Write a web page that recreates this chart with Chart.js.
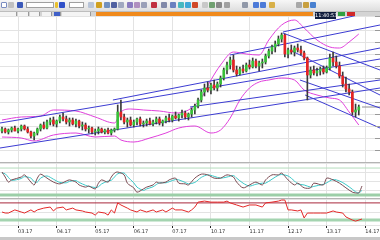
<!DOCTYPE html>
<html>
<head>
<meta charset="utf-8">
<script src="https://cdn.jsdelivr.net/npm/chart.js@4.4.1/dist/chart.umd.min.js"></script>
<style>
  body { margin: 0; width: 380px; height: 240px; overflow: hidden; position: relative; background: #ececec; font-family: "DejaVu Sans", sans-serif; }
  #toolbar { position: absolute; left: 0; top: 0; width: 380px; height: 11px; background: linear-gradient(#f7f7f7, #dedede); border-bottom: 1px solid #bdbdbd; }
  .ic { position: absolute; top: 2px; width: 6px; height: 6px; border-radius: 1px; }
  .box { position: absolute; top: 2px; height: 6px; background: #fff; border: 1px solid #a0a0a0; box-sizing: border-box; }
  #tabs { position: absolute; left: 0; top: 12px; width: 380px; height: 4px; background: #d4d4d4; }
  .tab { position: absolute; top: 0; height: 4px; background: #f4f4f4; border-right: 1px solid #999; }
  #clock { position: absolute; left: 315px; top: 12px; width: 21px; height: 7px; background: #101c3c; color: #fff; font-size: 5px; line-height: 7px; text-align: center; z-index: 5; }
  .panel { position: absolute; left: 0; width: 380px; background: #fff; }
  .sep { border-top: 1px solid #b4b4b4; }
  #foot { position: absolute; left: 0; top: 237px; width: 380px; height: 3px; background: #c8c8c8; }
</style>
</head>
<body>
<div id="toolbar">
  <div class="ic" style="left:1px;background:#fff;border:1px solid #7a8cc0;box-sizing:border-box"></div>
  <div class="ic" style="left:8px;background:#c0c0c0"></div>
  <div class="ic" style="left:17px;background:#3a58b8"></div>
  <div class="box" style="left:26px;width:28px"></div>
  <div class="ic" style="left:55px;width:3px;background:#e8c030"></div>
  <div class="ic" style="left:59px;background:#3050c8"></div>
  <div class="box" style="left:69px;width:15px"></div>
  <div class="ic" style="left:88px;background:#b8c4d8"></div>
  <div class="ic" style="left:96px;background:#d0a020"></div>
  <div class="ic" style="left:104px;background:#7090c0"></div>
  <div class="ic" style="left:111px;background:#5060a0"></div>
  <div class="ic" style="left:118px;background:#a0a8c0"></div>
  <div class="ic" style="left:127px;background:#8a7cc0"></div>
  <div class="ic" style="left:134px;background:#b090c0"></div>
  <div class="ic" style="left:141px;background:#9aa0b8"></div>
  <div class="ic" style="left:151px;background:#c03040"></div>
  <div class="ic" style="left:161px;background:#8088a8"></div>
  <div class="ic" style="left:170px;background:#6a80c0"></div>
  <div class="ic" style="left:178px;background:#48b8c0"></div>
  <div class="ic" style="left:185px;background:#40a8d8"></div>
  <div class="ic" style="left:192px;background:#d04828"></div>
  <div class="ic" style="left:202px;background:#c8c8c8"></div>
  <div class="ic" style="left:209px;background:#70a070"></div>
  <div class="ic" style="left:216px;background:#888"></div>
  <div class="ic" style="left:224px;background:#a0a0a0"></div>
  <div class="ic" style="left:242px;background:#9098a8"></div>
  <div class="ic" style="left:253px;background:#4c7ad8"></div>
  <div class="ic" style="left:260px;background:#4c7ad8"></div>
  <div class="ic" style="left:269px;background:#d8b048"></div>
  <div class="ic" style="left:296px;background:#a8a8a8"></div>
  <div class="ic" style="left:303px;background:#c8a040"></div>
  <div class="ic" style="left:310px;background:#4880d0"></div>
</div>
<div id="tabs">
  <div class="tab" style="left:0;width:16px"></div>
  <div class="tab" style="left:18px;width:10px"></div>
  <div class="tab" style="left:30px;width:9px"></div>
  <div class="tab" style="left:42px;width:9px"></div>
  <div class="tab" style="left:54px;width:6px;background:#4060c8"></div>
  <div class="tab" style="left:62px;width:28px"></div>
  <div style="position:absolute;left:96px;top:0;width:217px;height:4px;background:#f08a1c"></div>
  <div style="position:absolute;left:338px;top:0;width:7px;height:4px;background:#30a040"></div>
  <div style="position:absolute;left:347px;top:0;width:8px;height:4px;background:#d02828"></div>
</div>
<div id="clock">11:40:53</div>

<div class="panel" style="top:16px;height:146px"><canvas id="main" width="380" height="146"></canvas></div>
<div class="panel sep" style="top:162px;height:36px"><canvas id="osc1" width="380" height="36"></canvas></div>
<div class="panel sep" style="top:198px;height:39px"><canvas id="osc2" width="380" height="38"></canvas></div>
<div id="foot"></div>

<script>
// candles (index 0 = oldest)
const opens = [31,33,30,32,34,31,33,36,33,30, 26,29,33,37,34,40,42,38,41,45, 43,40,42,38,41,36,37,33,34,30,
  31,33,30,32,29,32,33,50,45,40, 42,37,40,43,38,39,41,38,40,43, 39,41,44,42,46,44,47,49,45,48,
  52,56,62,70,74,72,77,74,78,84, 92,97,102,92,88,93,91,97,95,101, 96,99,100,106,111,115,118,123,127,108,
  112,110,114,112,109,104,87,92,89,91, 93,90,94,104,100,96,86,78,73,70, 50,52];
const highs = [35,34,33,35,36,34,37,37,35,31, 30,34,38,40,42,44,45,42,47,49, 46,44,44,43,42,40,39,36,35,33,
  35,34,33,34,33,34,57,62,48,44, 45,42,44,45,41,43,44,42,45,45, 42,46,48,47,50,48,52,51,49,54,
  58,64,72,78,80,79,82,80,86,94, 100,105,107,96,95,97,99,102,104,103, 101,103,108,113,117,121,126,129,128,114,
  117,116,118,116,111,105,95,96,94,95, 96,96,108,110,106,100,90,85,78,72, 58,57];
const lows = [29,29,28,30,31,29,31,32,29,24, 22,27,31,33,33,37,36,35,39,41, 38,36,37,35,34,32,31,29,28,27,
  28,29,28,28,27,30,32,42,38,35, 36,35,37,36,35,36,37,36,38,37, 36,39,40,40,43,41,44,43,42,45,
  48,54,60,66,70,68,72,71,75,82, 88,93,90,86,87,89,90,93,94,94, 91,94,98,104,108,110,116,120,105,104,
  108,106,110,107,102,62,84,87,86,87, 88,89,92,96,94,84,75,70,67,47, 45,47];
const closes = [33,30,32,34,31,33,36,33,30,26, 29,33,37,34,40,42,38,41,45,43, 40,42,38,41,36,37,33,34,30,31,
  33,30,32,29,32,33,50,45,40,42, 37,40,43,38,39,41,38,40,43,39, 41,44,42,46,44,47,49,45,48,52,
  56,62,70,74,72,77,74,78,84,92, 97,102,92,88,93,91,97,95,101,96, 99,100,106,111,115,118,123,127,108,112,
  110,114,112,109,104,87,92,89,91,93, 90,94,104,100,96,86,78,73,70,50, 52,55];

// bollinger bands, read at sample candles
const bandIdx   = [0,6,12,16,23,29,35,37,40,44,49,54,58,62,65,68,72,76,80,83,87,91,94,98,102,105,108,111];
const bandUpper = [42,45,46,52,51,45,39,50,53,52,51,49,52,64,82,97,110,108,107,122,137,142,134,122,115,114,120,128];
const lowIdx    = [0,6,10,16,23,29,35,37,41,46,51,55,60,65,68,71,74,77,80,83,87,91,94,98,102,105,108,111];
const bandLower = [25,24,21,27,29,25,26,22,20,24,29,34,36,29,32,44,62,74,80,82,84,82,72,67,64,62,50,37];

// trend lines: start index/price, end index/price
const trendX1 = [-0.62,-0.62,34.5,70.9,87.4,58.5,87.4,89.6,92.7,94.3];
const trendY1 = [39,14,62,107,130,55,129,112,82,67];
const trendX2 = [117.6,117.6,117.6,117.6,117.6,117.6,117.6,117.6,117.6,117.6];
const trendY2 = [103,74,114,137,152,82,92,67,54,34];
const bidPrice = 55;

// oscillator 1 (main + signal)
const osc1Idx = [0,1,2,3,6,7,9,10,11,12,14,16,18,20,21,23,24,26,27,29,30,31,33,34,35,36,38,39,41,42,44,45,47,48,49,51,52,54,55,57,58,60,62,64,66,68,70,72,73,75,77,79,81,82,84,86,87,89,91,92,94,96,97,100,101,103,105,107,109,110,111,112];
const osc1Main = [75,61,47,53,61,67,47,39,58,69,58,47,42,50,53,47,39,33,36,28,44,53,47,61,72,75,67,44,31,19,28,33,39,47,44,47,53,58,44,42,39,58,69,67,58,58,67,61,47,31,39,47,39,53,67,67,72,53,39,44,31,31,44,39,58,53,44,31,19,17,17,36];
const osc1Signal = [72,70,60,52,57,62,58,48,47,58,64,55,46,45,49,51,46,38,35,32,34,42,50,52,61,70,72,62,45,33,24,28,34,40,45,45,48,54,53,46,42,46,60,67,63,58,61,65,58,44,36,41,44,44,55,66,68,64,50,42,39,33,35,41,45,54,50,40,27,20,17,24];
const osc1Levels = [86, 11];

// oscillator 2
const osc2Idx = [0,1,2,4,6,7,9,10,11,13,15,16,17,19,20,22,23,25,26,28,29,30,32,33,34,35,36,37,39,40,42,43,45,47,48,50,51,53,54,56,58,59,60,61,63,65,67,69,70,71,73,75,77,79,81,82,84,86,87,88,89,90,92,93,94,95,97,99,101,103,104,106,107,109,110,112];
const osc2Vals = [50,46,46,58,50,46,58,50,58,65,69,54,65,69,58,65,58,54,50,46,38,50,46,38,58,46,85,77,65,58,50,58,50,58,50,58,50,65,58,58,50,58,69,88,92,88,88,88,92,85,77,69,77,77,69,85,88,92,96,96,58,58,54,58,27,46,46,46,46,54,50,46,31,19,15,23];
const osc2Levels = [85, 19];

const dayTicks = [5,17,29,41,53,65,77,89,101,113];
const dayLabels = ['03.17','04.17','05.17','06.17','07.17','10.17','11.17','12.17','13.17','14.17'];

const X_MIN = -0.62, X_MAX = 117.6;
const GRID = '#e3e3e3';

function xAxis(withLabels) {
  return {
    type: 'linear', min: X_MIN, max: X_MAX, offset: false,
    afterBuildTicks: s => { s.ticks = dayTicks.map(v => ({ value: v })); },
    grid: { color: GRID, offset: false, drawTicks: withLabels, tickLength: 3, tickColor: '#222' },
    border: { display: false },
    ticks: { display: withLabels, align: 'start', padding: 1, color: '#333',
      font: { size: 5, family: 'DejaVu Sans' }, maxRotation: 0, minRotation: 0, autoSkip: false,
      callback: (v, i) => dayLabels[i] },
    afterFit: s => { s.height = withLabels ? 12 : 0; s.paddingLeft = 0; s.paddingRight = 0; }
  };
}
function yAxis(min, max, step) {
  return {
    position: 'right', min: min, max: max,
    ticks: { display: false, stepSize: step },
    grid: { color: GRID, drawTicks: false },
    border: { display: false },
    afterFit: s => { s.width = 0; s.paddingTop = 0; s.paddingBottom = 0; }
  };
}
function levelLine(v, color, w) {
  return { type: 'line', data: [{ x: X_MIN, y: v }, { x: X_MAX, y: v }], borderColor: color,
    borderWidth: w, pointRadius: 0, order: 9 };
}
const baseOpts = {
  animation: false, responsive: false, maintainAspectRatio: false,
  layout: { padding: 0 },
  plugins: { legend: { display: false }, tooltip: { enabled: false } }
};

// little tick marks on the right edge of the price panel
const edgeTicks = {
  id: 'edgeTicks',
  afterDraw(chart) {
    const c = chart.ctx, y = chart.scales.y;
    c.save(); c.strokeStyle = '#999'; c.lineWidth = 1;
    y.ticks.forEach(t => {
      const py = Math.round(y.getPixelForValue(t.value)) + 0.5;
      c.beginPath(); c.moveTo(375, py); c.lineTo(380, py); c.stroke();
    });
    c.restore();
  }
};

const idx = opens.map((_, i) => i);
const wicks = idx.map(i => ({ x: i, y: [lows[i], highs[i]] }));
const bodies = idx.map(i => ({ x: i, y: [opens[i], closes[i]] }));
const bodyColors = idx.map(i => closes[i] >= opens[i] ? '#38c038' : '#e42424');

const trendSets = trendX1.map((x1, k) => ({
  type: 'line', data: [{ x: x1, y: trendY1[k] }, { x: trendX2[k], y: trendY2[k] }],
  borderColor: '#3c3cd2', borderWidth: 1, pointRadius: 0, order: 3
}));

new Chart(document.getElementById('main'), {
  type: 'bar',
  data: {
    datasets: [
      { type: 'bar', data: bodies, backgroundColor: bodyColors, barThickness: 2, grouped: false, minBarLength: 1, order: 0 },
      { type: 'bar', data: wicks, backgroundColor: '#3a3a3a', barThickness: 1, grouped: false, order: 1 },
      ...trendSets,
      { type: 'line', data: bandIdx.map((x, k) => ({ x: x, y: bandUpper[k] })), borderColor: '#e040dc',
        borderWidth: 1, pointRadius: 0, cubicInterpolationMode: 'monotone', order: 5 },
      { type: 'line', data: lowIdx.map((x, k) => ({ x: x, y: bandLower[k] })), borderColor: '#e040dc',
        borderWidth: 1, pointRadius: 0, cubicInterpolationMode: 'monotone', order: 5 },
      { type: 'line', data: [{ x: 112, y: bidPrice }, { x: X_MAX, y: bidPrice }], borderColor: '#909090',
        borderWidth: 1, pointRadius: 0, order: 4 }
    ]
  },
  options: { ...baseOpts, scales: { x: xAxis(false), y: yAxis(0, 146, 12) } },
  plugins: [edgeTicks]
});

new Chart(document.getElementById('osc1'), {
  type: 'line',
  data: {
    datasets: [
      levelLine(osc1Levels[0], '#b4dcbc', 1),
      levelLine(osc1Levels[1], '#9ccfa8', 3),
      { data: osc1Idx.map((x, k) => ({ x: x, y: osc1Signal[k] })), borderColor: '#3cc8c8', borderWidth: 1,
        pointRadius: 0, tension: 0.3, order: 2 },
      { data: osc1Idx.map((x, k) => ({ x: x, y: osc1Main[k] })), borderColor: '#7a4a52', borderWidth: 1,
        pointRadius: 0, tension: 0.3, order: 1 }
    ]
  },
  options: { ...baseOpts, scales: { x: xAxis(false), y: yAxis(0, 100, 25) } }
});

new Chart(document.getElementById('osc2'), {
  type: 'line',
  data: {
    datasets: [
      levelLine(osc2Levels[0], '#a8283c', 1),
      levelLine(osc2Levels[1], '#a4d4b0', 3),
      { data: osc2Idx.map((x, k) => ({ x: x, y: osc2Vals[k] })), borderColor: '#e42828', borderWidth: 1,
        pointRadius: 0, tension: 0, order: 1 }
    ]
  },
  options: { ...baseOpts, scales: { x: xAxis(true), y: yAxis(0, 100, 50) } }
});
</script>
</body>
</html>
